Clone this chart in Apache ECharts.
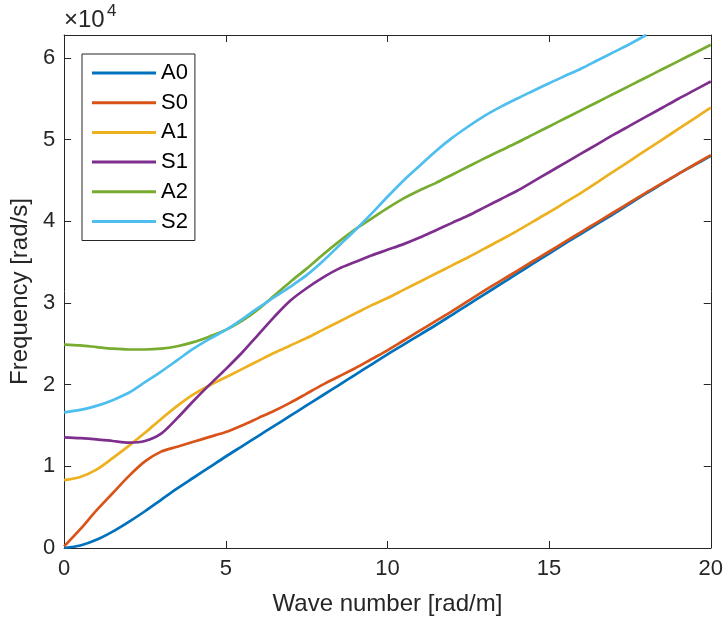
<!DOCTYPE html>
<html>
<head>
<meta charset="utf-8">
<script src="https://cdn.jsdelivr.net/npm/echarts@6/dist/echarts.min.js"></script>
<style>
html,body{margin:0;padding:0;background:#fff;}
#chart{width:726px;height:622px;}
</style>
</head>
<body>
<div id="chart"></div>
<script>
// Wave number [rad/m], step 0.5 from 0 to 20
const waveNumber = [0,0.5,1,1.5,2,2.5,3,3.5,4,4.5,5,5.5,6,6.5,7,7.5,8,8.5,9,9.5,10,10.5,11,11.5,12,12.5,13,13.5,14,14.5,15,15.5,16,16.5,17,17.5,18,18.5,19,19.5,20];
// Frequency values in units of 1e4 rad/s
const A0 = [0,0.03,0.10,0.20,0.32,0.45,0.59,0.73,0.86,0.99,1.12,1.245,1.37,1.495,1.62,1.745,1.87,1.995,2.12,2.245,2.37,2.49,2.61,2.73,2.855,2.98,3.105,3.23,3.355,3.48,3.605,3.73,3.85,3.97,4.09,4.215,4.34,4.46,4.58,4.69,4.80];
const S0 = [0.02,0.23,0.46,0.67,0.88,1.06,1.18,1.24,1.30,1.36,1.42,1.50,1.59,1.68,1.78,1.89,2.0,2.1,2.2,2.31,2.42,2.54,2.66,2.78,2.90,3.025,3.15,3.27,3.39,3.51,3.63,3.75,3.87,3.99,4.11,4.23,4.35,4.465,4.58,4.695,4.81];
const A1 = [0.83,0.87,0.96,1.10,1.25,1.41,1.58,1.74,1.88,1.99,2.09,2.19,2.29,2.39,2.48,2.57,2.67,2.77,2.87,2.97,3.06,3.16,3.26,3.36,3.46,3.56,3.665,3.77,3.88,3.995,4.11,4.23,4.35,4.48,4.61,4.74,4.87,5.00,5.13,5.26,5.39];
const S1 = [1.355,1.345,1.33,1.31,1.29,1.31,1.40,1.59,1.80,2.00,2.19,2.39,2.61,2.83,3.03,3.18,3.31,3.42,3.50,3.58,3.65,3.72,3.80,3.89,3.98,4.07,4.17,4.27,4.37,4.485,4.60,4.715,4.83,4.945,5.06,5.17,5.28,5.39,5.50,5.605,5.71];
const A2 = [2.49,2.48,2.46,2.44,2.43,2.43,2.44,2.47,2.52,2.59,2.67,2.78,2.92,3.09,3.26,3.42,3.59,3.75,3.90,4.03,4.16,4.28,4.38,4.47,4.57,4.67,4.77,4.865,4.96,5.06,5.16,5.26,5.36,5.46,5.56,5.66,5.76,5.86,5.96,6.06,6.16];
const S2 = [1.66,1.69,1.74,1.81,1.90,2.03,2.16,2.30,2.44,2.56,2.67,2.80,2.94,3.07,3.20,3.34,3.51,3.70,3.89,4.09,4.30,4.50,4.68,4.86,5.02,5.16,5.29,5.40,5.50,5.595,5.69,5.78,5.87,5.97,6.07,6.17,6.28];
const seriesNames = ['A0','S0','A1','S1','A2','S2'];
const seriesValues = [A0,S0,A1,S1,A2,S2];
const colors = ['#0072BD','#D95319','#EDB120','#7E2F8E','#77AC30','#4DBEEE'];
const xTicks = [0,5,10,15,20];
const yTicks = [0,1,2,3,4,5,6];

const textColor = '#262626';
const font = 'Liberation Sans, Arial, Helvetica, sans-serif';
const chart = echarts.init(document.getElementById('chart'), null, {renderer:'canvas'});

const axisCommon = {
  axisLine:{show:true,onZero:false,lineStyle:{color:textColor,width:1}},
  axisTick:{show:true,inside:true,length:7,lineStyle:{color:textColor,width:1}},
  splitLine:{show:false}
};

const option = {
  animation:false,
  backgroundColor:'#fff',
  grid:{left:62,right:15,top:35,bottom:74,containLabel:false},
  xAxis:[
    Object.assign({type:'value',position:'bottom',min:xTicks[0],max:xTicks[xTicks.length-1],interval:5,
      name:'Wave number [rad/m]',nameLocation:'middle',nameGap:44,
      nameTextStyle:{fontSize:24,color:textColor,fontFamily:font},
      axisLabel:{fontSize:22,color:textColor,fontFamily:font,margin:10}}, axisCommon),
    Object.assign({type:'value',position:'top',min:0,max:20,interval:5,axisLabel:{show:false}}, axisCommon)
  ],
  yAxis:[
    Object.assign({type:'value',position:'left',min:yTicks[0],max:6.28,interval:1,
      name:'Frequency [rad/s]',nameLocation:'middle',nameGap:26,
      nameTextStyle:{fontSize:24,color:textColor,fontFamily:font},
      axisLabel:{fontSize:22,color:textColor,fontFamily:font,margin:9,showMaxLabel:false,
        formatter:v=> (Math.abs(v-Math.round(v))<1e-9 ? String(Math.round(v)) : '')}}, axisCommon),
    Object.assign({type:'value',position:'right',min:0,max:6.28,interval:1,axisLabel:{show:false}}, axisCommon)
  ],
  legend:{
    orient:'vertical',left:82,top:54,
    padding:[8,7,8,10],
    itemWidth:64,itemHeight:3,itemGap:7.7,
    icon:'rect',
    backgroundColor:'#fff',borderColor:textColor,borderWidth:1,borderRadius:0,
    textStyle:{fontSize:22,color:'#000',fontFamily:font,lineHeight:22},
    data:seriesNames
  },
  graphic:[
    {type:'text',left:64,top:8,style:{text:'×10',font:'24px '+font,fill:textColor}},
    {type:'text',left:107,top:3,style:{text:'4',font:'17px '+font,fill:textColor}}
  ],
  series: seriesNames.map((n,i)=>({
    name:n,type:'line',showSymbol:false,symbol:'none',smooth:0.3,clip:true,
    color:colors[i],
    lineStyle:{color:colors[i],width:2.7},
    data: seriesValues[i].map((v,j)=>[waveNumber[j], v])
  }))
};
chart.setOption(option);
</script>
</body>
</html>
